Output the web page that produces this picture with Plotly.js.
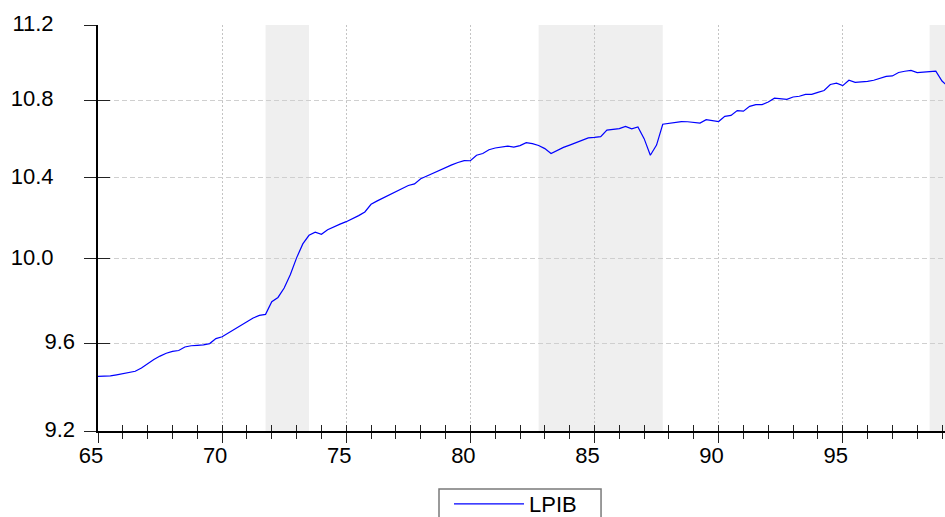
<!DOCTYPE html>
<html><head><meta charset="utf-8">
<script src="https://cdn.plot.ly/plotly-3.0.1.min.js"></script>
<style>html,body{margin:0;padding:0;background:#fff}#chart{width:945px;height:517px}</style>
</head><body><div id="chart"></div>
<script>
const seriesName = 'LPIB';
const firstYear = 65;        // first observation: 1965Q1
const periodsPerYear = 4;    // quarterly data
const lpib = [
  9.447, 9.447, 9.449, 9.454, 9.459, 9.464, 9.470, 9.485,
  9.505, 9.524, 9.540, 9.553, 9.562, 9.566, 9.582, 9.588,
  9.590, 9.592, 9.598, 9.621, 9.630, 9.648, 9.668, 9.684,
  9.700, 9.718, 9.730, 9.735, 9.795, 9.815, 9.860, 9.925,
  10.005, 10.073, 10.115, 10.130, 10.120, 10.142, 10.158, 10.170,
  10.182, 10.196, 10.212, 10.230, 10.268, 10.285, 10.301, 10.316,
  10.331, 10.350, 10.362, 10.370, 10.396, 10.410, 10.424, 10.441,
  10.456, 10.466, 10.478, 10.488, 10.487, 10.515, 10.524, 10.543,
  10.552, 10.558, 10.562, 10.557, 10.564, 10.579, 10.574, 10.565,
  10.549, 10.524, 10.540, 10.555, 10.567, 10.580, 10.593, 10.604,
  10.606, 10.610, 10.644, 10.648, 10.652, 10.663, 10.650, 10.660,
  10.600, 10.515, 10.567, 10.674, 10.678, 10.684, 10.688, 10.687,
  10.683, 10.680, 10.698, 10.694, 10.688, 10.715, 10.720, 10.745,
  10.742, 10.767, 10.776, 10.776, 10.790, 10.810, 10.807, 10.804,
  10.816, 10.820, 10.830, 10.830, 10.840, 10.850, 10.882, 10.889,
  10.876, 10.904, 10.893, 10.895, 10.898, 10.904, 10.915, 10.925,
  10.927, 10.945, 10.952, 10.956, 10.945, 10.946, 10.950, 10.952,
  10.900, 10.870
];
const xTickVals = [65, 70, 75, 80, 85, 90, 95];
const xTickText = ['65', '70', '75', '80', '85', '90', '95'];
const yTickVals = [9.2, 9.6, 10.0, 10.4, 10.8, 11.2];
const yTickText = ['9.2', '9.6', '10.0', '10.4', '10.8', '11.2'];
const shadeStart = [71.75, 82.75, 98.5];
const shadeEnd = [73.5, 87.75, 99.5];

const xs = lpib.map((_, i) => firstYear + i / periodsPerYear);
const FONT = 'Liberation Sans, Arial, sans-serif';
const xRange = [65, 99.12];
const yRange = [Math.log10(9.2), Math.log10(11.2)];

const trace = {
  x: xs, y: lpib, type: 'scatter', mode: 'lines', name: seriesName,
  line: {color: '#0000ff', width: 1.2}, hoverinfo: 'x+y'
};
// empty helper traces so that the overlay axes (crossing ticks, grid, labels) get drawn
const helper = (xa, ya) => ({x: [], y: [], type: 'scatter', mode: 'lines', xaxis: xa, yaxis: ya,
  showlegend: false, hoverinfo: 'skip'});

const shapes = shadeStart.map((s, i) => ({
  type: 'rect', xref: 'x', yref: 'paper', x0: s, x1: shadeEnd[i], y0: 0, y1: 1,
  fillcolor: '#efefef', line: {width: 0}, layer: 'below'
}));
// legend frame (bottom edge lies below the picture, as in the reference)
shapes.push({
  type: 'rect', xref: 'paper', yref: 'paper', x0: 0.4026, x1: 0.5939, y0: -0.26, y1: -0.1429,
  fillcolor: 'rgba(0,0,0,0)', line: {color: '#7a7a7a', width: 1.5}, layer: 'above'
});

const wideLabels = yTickVals.map((v, i) => yTickText[i].length > 3 ? yTickText[i] : '');
const narrowVals = yTickVals.filter((v, i) => yTickText[i].length <= 3);
const narrowText = yTickText.filter(t => t.length <= 3);

const layout = {
  width: 945, height: 517,
  margin: {l: 98, r: 0, t: 25, b: 86, autoexpand: false},
  paper_bgcolor: '#ffffff', plot_bgcolor: '#ffffff',
  font: {family: FONT, size: 22, color: '#000'},
  showlegend: true,
  legend: {
    orientation: 'h', x: 0.4144, xanchor: 'left', y: -0.1281, yanchor: 'top',
    xref: 'paper', yref: 'paper',
    borderwidth: 0, bgcolor: 'rgba(0,0,0,0)',
    font: {family: FONT, size: 22, color: '#000'},
    itemwidth: 70, entrywidth: 140, entrywidthmode: 'pixels', maxheight: 200
  },
  shapes: shapes,
  xaxis: {
    range: xRange, type: 'linear', fixedrange: true,
    tickmode: 'array', tickvals: xTickVals, ticktext: xTickText,
    ticks: 'outside', ticklen: 10, tickwidth: 1, tickcolor: '#222',
    showline: true, linecolor: '#000', linewidth: 2,
    showgrid: true, gridcolor: '#c4c4c4', gridwidth: 1, griddash: '2px,2px',
    zeroline: false, ticklabelshift: -7, ticklabelstandoff: -6,
    minor: {dtick: 1, tick0: 65, ticks: 'outside', ticklen: 6, tickwidth: 1, tickcolor: '#222', showgrid: false}
  },
  xaxis2: {
    overlaying: 'x', anchor: 'y', matches: 'x', range: xRange, fixedrange: true,
    tickmode: 'array', tickvals: xTickVals, showticklabels: false,
    ticks: 'inside', ticklen: 6, tickwidth: 1, tickcolor: '#222',
    showline: false, showgrid: false, zeroline: false,
    minor: {dtick: 1, tick0: 65, ticks: 'inside', ticklen: 6, tickwidth: 1, tickcolor: '#222', showgrid: false}
  },
  yaxis: {
    type: 'log', range: yRange, fixedrange: true,
    tickmode: 'array', tickvals: yTickVals, ticktext: wideLabels,
    ticks: 'outside', ticklen: 12, tickwidth: 1, tickcolor: '#222',
    showline: true, linecolor: '#000', linewidth: 2,
    showgrid: false, zeroline: false, ticklabelstandoff: 26, ticklabelshift: -2
  },
  yaxis2: {
    type: 'log', overlaying: 'y', anchor: 'x', matches: 'y', range: yRange, fixedrange: true,
    tickmode: 'array', tickvals: yTickVals, showticklabels: false,
    ticks: 'inside', ticklen: 12, tickwidth: 1, tickcolor: '#222',
    showline: false, showgrid: false, zeroline: false
  },
  yaxis3: {
    type: 'log', overlaying: 'y', anchor: 'x', matches: 'y', range: yRange, fixedrange: true,
    tickmode: 'array', tickvals: narrowVals, ticktext: narrowText,
    ticks: '', showline: false, showgrid: false, zeroline: false,
    ticklabelstandoff: 22, ticklabelshift: -2
  },
  yaxis4: {
    type: 'log', overlaying: 'y', anchor: 'x', matches: 'y', range: yRange, fixedrange: true,
    tickmode: 'array', tickvals: yTickVals.slice(1, -1), showticklabels: false,
    ticks: '', showline: false, zeroline: false,
    showgrid: true, gridcolor: '#cfcfcf', gridwidth: 1, griddash: '5px,3px'
  }
};

Plotly.newPlot('chart',
  [helper('x2', 'y'), helper('x', 'y2'), helper('x', 'y3'), helper('x', 'y4'), trace],
  layout, {displayModeBar: false, staticPlot: true});
</script>
</body></html>
